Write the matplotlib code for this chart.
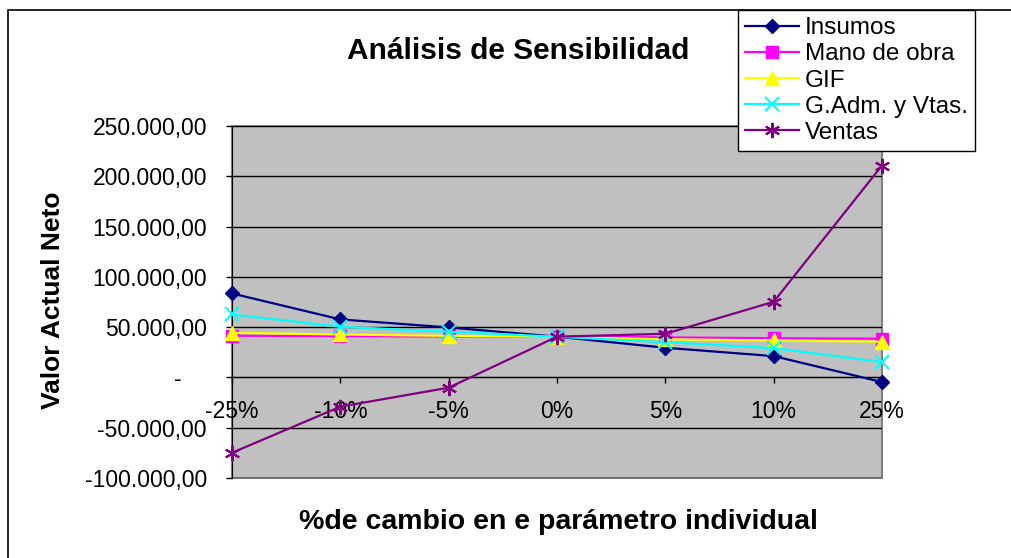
import matplotlib.pyplot as plt
from matplotlib.patches import Rectangle
from matplotlib.ticker import FuncFormatter

plt.rcParams['font.family'] = ['Liberation Sans', 'DejaVu Sans']

# Data
cambios = ['-25%', '-10%', '-5%', '0%', '5%', '10%', '25%']
insumos = [83500, 57700, 49700, 40500, 29500, 21200, -4600]
mano_obra = [41500, 41000, 40700, 40500, 39800, 39000, 38500]
gif = [44400, 42700, 41300, 40500, 37800, 36800, 35500]
g_adm = [62600, 50400, 45400, 40500, 35100, 29100, 15200]
ventas = [-74900, -29100, -10200, 40500, 43400, 75200, 210700]
y_ticks = [-100000, -50000, 0, 50000, 100000, 150000, 200000, 250000]

series = [
    ('Insumos', insumos, '#000080', 'D', 7.5),
    ('Mano de obra', mano_obra, '#FF00FF', 's', 8),
    ('GIF', gif, '#FFFF00', '^', 10),
    ('G.Adm. y Vtas.', g_adm, '#00FFFF', 'x', 10),
    ('Ventas', ventas, '#800080', (6, 2, 0), 11),
]


def fmt_valor(v, pos=None):
    # Excel accounting style: 250.000,00 and "-" for zero
    if v == 0:
        return '-\u2007\u2007'
    s = f'{abs(v):,.2f}'.replace(',', '#').replace('.', ',').replace('#', '.')
    return ('-' if v < 0 else '') + s


fig = plt.figure(figsize=(10.12, 5.58), dpi=100)

# chart border
fig.patches.append(Rectangle((8 / 1012, -0.05), 1.1, 1 - 10 / 558 + 0.05,
                             transform=fig.transFigure, fill=False,
                             edgecolor='black', linewidth=1.2))

ax = fig.add_axes([232 / 1012, 1 - 478 / 558, 650 / 1012, 352 / 558])
ax.set_facecolor('#C0C0C0')
ax.patch.set_edgecolor('#808080')
ax.patch.set_linewidth(1.5)

x = list(range(len(cambios)))
for name, vals, color, marker, ms in series:
    mew = 1.5 if marker in ('x', (6, 2, 0)) else 1
    ax.plot(x, vals, color=color, marker=marker, markersize=ms, linewidth=1.6,
            markeredgewidth=mew, label=name, clip_on=False, zorder=3)

ax.set_xlim(0, 6)
ax.set_ylim(-100000, 250000)
ax.set_yticks(y_ticks)
ax.yaxis.set_major_formatter(FuncFormatter(fmt_valor))
ax.set_xticks(x)
ax.set_xticklabels(cambios)
ax.grid(axis='y', color='black', linewidth=1)
ax.set_axisbelow(True)

ax.spines['bottom'].set_position(('data', 0))
ax.spines['bottom'].set_color('black')
ax.spines['left'].set_color('black')
ax.spines['top'].set_visible(False)
ax.spines['right'].set_visible(False)
ax.tick_params(axis='y', direction='out', length=4, width=1, labelsize=16.5, pad=14)
ax.tick_params(axis='x', direction='out', length=4, width=1, labelsize=16.5, pad=12)

fig.text(518 / 1012, 1 - 51 / 558, 'Análisis de Sensibilidad', ha='center', va='center',
         fontsize=21.5, fontweight='bold')
fig.text(53 / 1012, 1 - 300 / 558, 'Valor Actual Neto', ha='center', va='center',
         rotation=90, fontsize=19, fontweight='bold')
fig.text(558 / 1012, 1 - 522 / 558, '%de cambio en e parámetro individual', ha='center',
         va='center', fontsize=20.5, fontweight='bold')

leg = fig.legend(loc='upper left', bbox_to_anchor=(738 / 1012, 1 - 10 / 558),
                 borderaxespad=0, fontsize=17.5, frameon=True, fancybox=False,
                 edgecolor='black', framealpha=1, handlelength=2.2,
                 labelspacing=0.17, handletextpad=0.25, borderpad=0.3)
leg.get_frame().set_linewidth(1)

fig.savefig('out.png', dpi=100)
